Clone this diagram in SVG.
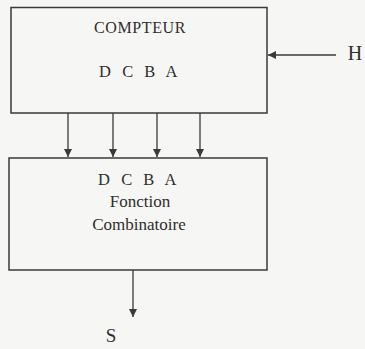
<svg xmlns="http://www.w3.org/2000/svg" width="365" height="349" viewBox="0 0 365 349">
<style>
.box{fill:none;stroke:#3a3a3a;stroke-width:1.5}
.ln{stroke:#3a3a3a;stroke-width:1.3;fill:none}
text{font-family:"Liberation Serif","Times New Roman",serif;fill:#2e2e2e;text-anchor:middle}
</style>
<defs>
<marker id="ah" viewBox="0 0 10 10" refX="10" refY="5" markerWidth="9" markerHeight="8" markerUnits="userSpaceOnUse" orient="auto">
<path d="M0,0 L10,5 L0,10 z" fill="#3a3a3a"/>
</marker>
</defs>
<rect width="365" height="349" fill="#f6f6f4"/>
<g id="compteur">
<rect class="box" x="11" y="7.5" width="256" height="105.5"/>
<text x="140" y="33" font-size="16" letter-spacing="0.6">COMPTEUR</text>
<text x="140" y="77" font-size="16.5" letter-spacing="3.5">D C B A</text>
</g>
<g id="combinatoire">
<rect class="box" x="9" y="158" width="258" height="112"/>
<text x="139" y="185" font-size="16.5" letter-spacing="3.5">D C B A</text>
<text x="140" y="207" font-size="17">Fonction</text>
<text x="139" y="230" font-size="17">Combinatoire</text>
</g>
<g id="H">
<text x="355" y="60" font-size="20">H</text>
</g>
<g id="S">
<text x="111" y="342" font-size="19">S</text>
</g>
<g id="connectors">
<line class="ln" x1="68" y1="113" x2="68" y2="157" marker-end="url(#ah)"/>
<line class="ln" x1="113" y1="113" x2="113" y2="157" marker-end="url(#ah)"/>
<line class="ln" x1="157" y1="113" x2="157" y2="157" marker-end="url(#ah)"/>
<line class="ln" x1="200" y1="113" x2="200" y2="157" marker-end="url(#ah)"/>
<line class="ln" x1="336" y1="55" x2="268" y2="55" marker-end="url(#ah)"/>
<line class="ln" x1="133" y1="270" x2="133" y2="317" marker-end="url(#ah)"/>
</g>
</svg>
